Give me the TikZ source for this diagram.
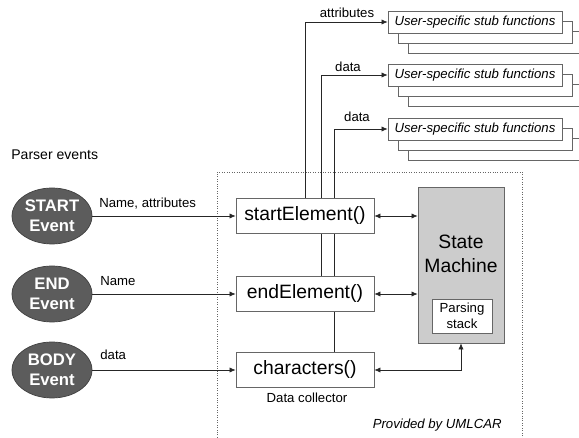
\documentclass[tikz,border=0pt]{standalone}
\usepackage{fontspec}
\setmainfont{Liberation Sans}
\usetikzlibrary{arrows.meta,shapes.geometric,backgrounds}
\tikzset{
	evt/.style={ellipse, draw=black!75, fill=black!64, text=white, font=\fontsize{9.5}{11.3}\selectfont\bfseries, align=center, minimum width=1.6cm, minimum height=1.12cm, inner sep=0pt},
	funcbox/.style={draw=black!60, fill=white, font=\fontsize{11}{13}\selectfont, minimum width=2.76cm, minimum height=0.7cm, inner sep=0pt},
	stubbox/.style={draw=black!60, fill=white, font=\fontsize{7.5}{9}\selectfont\itshape, minimum width=3.48cm, minimum height=0.44cm, inner sep=0pt},
	lbl/.style={font=\fontsize{7.5}{9}\selectfont, inner sep=0pt},
	arr/.style={-{Latex[length=3.5pt,width=3pt]}, black!85},
	darr/.style={{Latex[length=3.5pt,width=3pt]}-{Latex[length=3.5pt,width=3pt]}, black!85},
}

\begin{document}
\begin{tikzpicture}[x=0.02cm, y=-0.02cm]
		%%%%% START %%%%%
		\path[use as bounding box, clip] (0, 0) rectangle (579, 438);
		
		\draw[densely dotted, black!60] (217, 445) -- (217, 172) -- (522, 172) -- (522, 445);
		
		\node[anchor=west, font=\fontsize{8}{10}\selectfont, inner sep=0pt] (title) at (11, 155) {Parser events};
		
		\node[evt] (start) at (52, 216) {START\\Event};
		\node[evt] (end) at (52, 294) {END\\Event};
		\node[evt] (body) at (52, 370) {BODY\\Event};
		
		\node[funcbox] (startbox) at (305, 216) {startElement()};
		\node[funcbox] (endbox) at (305, 294) {endElement()};
		\node[funcbox] (charbox) at (305, 370) {characters()};
		\node[lbl] (collector) at (307, 398) {Data collector};
		
		\node[draw=black!60, fill=black!20, minimum width=1.72cm, minimum height=3.12cm, inner sep=0pt] (sm) at (461, 265) {};
		\node[font=\fontsize{11}{13.6}\selectfont, align=center] (smtext) at (461, 254) {State\\Machine};
		\node[draw=black!60, fill=white, minimum width=1.2cm, minimum height=0.68cm, inner sep=0pt, font=\fontsize{7.5}{9}\selectfont, align=center] (stack) at (462, 316) {Parsing\\stack};
		
		\node[anchor=east, font=\fontsize{7.5}{9}\selectfont\itshape, inner sep=0pt] (provided) at (502, 425) {Provided by UMLCAR};
		
		% stacked stub boxes
		\foreach \n/\y in {a/22, b/75, c/129}{
			\draw[black!60, fill=white] (408, {\y+9}) rectangle (582, {\y+31});
			\draw[black!60, fill=white] (398, {\y-1}) rectangle (572, {\y+21});
			\node[stubbox] (stub\n) at (475, \y) {User-specific stub functions};
		}
		
		\node[lbl] (attrlbl) at (347, 13) {attributes};
		\node[lbl] (datalbla) at (348, 67) {data};
		\node[lbl] (datalblb) at (357, 117) {data};
		
		\node[lbl, anchor=west] (namattr) at (99, 204) {Name, attributes};
		\node[lbl, anchor=west] (namlbl) at (100, 281) {Name};
		\node[lbl, anchor=west] (datlbl) at (100, 355) {data};
		
		\draw[arr] (start.east) -- (startbox.west);
		\draw[arr] (end.east) -- (endbox.west);
		\draw[arr] (body.east) -- (charbox.west);
		
		\draw[darr] (startbox.east) -- (startbox.east -| sm.west);
		\draw[darr] (endbox.east) -- (endbox.east -| sm.west);
		\draw[darr] (charbox.east) -| (sm.south);
		
		\begin{pgfonlayer}{background}
			\draw[arr] (startbox.north) |- (stuba.west);
			\draw[arr] ([xshift=0.32cm]endbox.north) |- (stubb.west);
			\draw[arr] ([xshift=0.58cm]charbox.north) |- (stubc.west);
		\end{pgfonlayer}
		
		%%%%% END %%%%%
\end{tikzpicture}
\end{document}
